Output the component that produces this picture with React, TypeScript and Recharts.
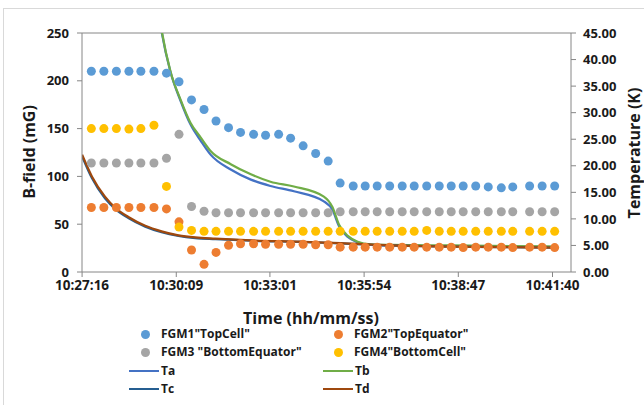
import { ComposedChart, Scatter, Line, XAxis, YAxis, ReferenceLine } from "recharts";

// sample times of the field probes (hh:mm:ss)
const times = [
  "10:27:33", "10:27:56", "10:28:19", "10:28:42", "10:29:04", "10:29:28", "10:29:51", "10:30:14",
  "10:30:37", "10:31:00", "10:31:22", "10:31:45", "10:32:07", "10:32:31", "10:32:53", "10:33:17",
  "10:33:39", "10:34:02", "10:34:25", "10:34:48", "10:35:10", "10:35:34", "10:35:56", "10:36:18",
  "10:36:41", "10:37:04", "10:37:26", "10:37:49", "10:38:12", "10:38:34", "10:38:56", "10:39:19",
  "10:39:42", "10:40:06", "10:40:27", "10:40:58", "10:41:21", "10:41:44",
];

const fgm1 = [
  210, 210, 210, 210, 210, 210, 208, 199, 180, 170, 158, 151, 146, 144, 143, 144, 140, 132, 124, 116,
  93, 90, 90, 90, 90, 90, 90, 90, 90, 90, 90, 90, 89, 88, 89, 90, 90, 90,
];
const fgm2 = [
  67.5, 67.5, 67.5, 67.5, 67.5, 67.5, 66, 52.5, 23, 8, 20.5, 28, 29.5, 29.5, 29, 29, 29, 29, 28.5, 28.5,
  26, 26, 26, 26, 26, 26, 26, 26, 26, 26, 25.5, 26, 26, 26, 25.5, 26, 26, 25.5,
];
const fgm3 = [
  114, 114, 114, 114, 114, 114, 119, 144, 68.5, 63.5, 62, 62, 62, 62, 62, 62, 62, 62, 62, 62,
  63, 63, 63, 63, 63, 63, 63, 63, 63, 63, 63, 63, 63, 63, 63, 63, 63, 63,
];
const fgm4 = [
  150, 150, 150, 149.5, 150, 153.5, 89.5, 47, 43.5, 42.5, 42.5, 42.5, 42.5, 42.5, 42.5, 42.5, 42.5, 42.5, 42.5, 42.5,
  42.5, 42.5, 42.5, 42.5, 42.5, 42.5, 42.5, 43.5, 42.5, 42.5, 42.5, 42.5, 42.5, 42.5, 42.5, 42.5, 42.5, 42.5,
];

// temperature sensors (K)
const timesAB = [
  "10:29:31", "10:29:42", "10:29:58", "10:30:17", "10:30:35", "10:30:54", "10:31:12", "10:31:49",
  "10:32:26", "10:33:02", "10:33:45", "10:34:40", "10:34:56", "10:35:08", "10:35:24", "10:35:42",
  "10:36:06", "10:36:43", "10:38:34", "10:41:43",
];
const ta = [53, 45.3, 37.8, 32.2, 27.8, 24.7, 22.1, 19.3, 17.4, 16.2, 15.2, 13.3, 11.7, 8.6, 6.6, 5.6, 5.1, 5.0, 4.85, 4.7];
const tb = [53.5, 45.6, 37.9, 32.4, 28.1, 25.3, 22.8, 20.3, 18.4, 17.0, 16.1, 14.2, 12.2, 8.9, 6.8, 5.7, 5.2, 5.1, 5.0, 4.8];

const timesCD = [
  "10:27:16", "10:27:34", "10:27:58", "10:28:18", "10:28:41", "10:29:12", "10:29:42", "10:30:13",
  "10:30:44", "10:31:21", "10:32:26", "10:33:58", "10:35:11", "10:36:43", "10:38:34", "10:40:06", "10:41:43",
];
const tc = [21.8, 17.7, 13.9, 11.8, 10.15, 8.55, 7.5, 6.8, 6.4, 6.2, 5.9, 5.65, 5.4, 5.0, 4.8, 4.7, 4.6];
const td = [22.1, 18.0, 14.2, 12.0, 10.35, 8.7, 7.65, 6.9, 6.5, 6.27, 5.95, 5.7, 5.45, 5.0, 4.8, 4.7, 4.6];

const xTickLabels = ["10:27:16", "10:30:09", "10:33:01", "10:35:54", "10:38:47", "10:41:40"];
const xMax = "10:42:14";
const bTicks = [0, 50, 100, 150, 200, 250];
const tempTicks = [0, 5, 10, 15, 20, 25, 30, 35, 40, 45];

const fieldNames = ['FGM1"TopCell"', 'FGM2"TopEquator"', 'FGM3 "BottomEquator"', 'FGM4"BottomCell"'];
const tempNames = ["Ta", "Tb", "Tc", "Td"];

const FIELD_COLORS = ["#5B9BD5", "#ED7D31", "#A5A5A5", "#FFC000"];
const TEMP_COLORS = ["#4472C4", "#70AD47", "#255E91", "#9E480E"];

const toSec = (s: string) => {
  const [h, m, sec] = s.split(":").map(Number);
  return h * 3600 + m * 60 + sec;
};
const fmt = (v: number) => {
  const s = Math.round(v);
  const p = (n: number) => String(n).padStart(2, "0");
  return `${p(Math.floor(s / 3600))}:${p(Math.floor((s % 3600) / 60))}:${p(s % 60)}`;
};

const font = "'Open Sans', sans-serif";
const tickStyle = { fontFamily: font, fontWeight: 700, fontSize: 13, fill: "#1a1a1a" };
const axisLine = { stroke: "#868686", strokeWidth: 1 };

const fieldData = [fgm1, fgm2, fgm3, fgm4].map((vals) => vals.map((v, i) => ({ t: toSec(times[i]), v })));
const tempData = [
  ta.map((v, i) => ({ t: toSec(timesAB[i]), temp: v })),
  tb.map((v, i) => ({ t: toSec(timesAB[i]), temp: v })),
  tc.map((v, i) => ({ t: toSec(timesCD[i]), temp: v })),
  td.map((v, i) => ({ t: toSec(timesCD[i]), temp: v })),
];

const Dot = (color: string) => (p: any) => <circle cx={p.cx} cy={p.cy} r={4.5} fill={color} />;

const legendText = { fontFamily: font, fontWeight: 700, fontSize: 12, color: "#1a1a1a", lineHeight: "16px" } as const;

function LegendRow({ top, left, kind, color, label }: { top: number; left: number; kind: "dot" | "line"; color: string; label: string }) {
  return (
    <div style={{ position: "absolute", top: top - 8, left, display: "flex", alignItems: "center", height: 16 }}>
      {kind === "dot" ? (
        <div style={{ width: 32, display: "flex", justifyContent: "center" }}>
          <div style={{ width: 9, height: 9, borderRadius: "50%", background: color }} />
        </div>
      ) : (
        <div style={{ width: 30, height: 2.5, background: color, marginRight: 2 }} />
      )}
      <span style={{ ...legendText, whiteSpace: "nowrap" }}>{label}</span>
    </div>
  );
}

export default function App() {
  const rows = [334, 352, 371, 389];
  return (
    <div style={{ position: "relative", width: 644, height: 405, overflow: "hidden", background: "#fff" }}>
      <style>{"body{margin:0}"}</style>
      <div style={{ position: "absolute", left: 3, top: 8, width: 700, height: 500, borderLeft: "1px solid #d9d9d9", borderTop: "1px solid #d9d9d9" }} />
      <ComposedChart width={644} height={405} margin={{ top: 33, right: 0, bottom: 103, left: 0 }}>
        <XAxis
          type="number"
          dataKey="t"
          domain={[toSec(xTickLabels[0]) - 0.16, toSec(xMax)]}
          ticks={xTickLabels.map(toSec)}
          tickFormatter={fmt}
          allowDataOverflow
          height={30}
          tick={{ ...tickStyle, fontSize: 13.5 }}
          tickSize={5}
          tickMargin={3}
          axisLine={axisLine}
          tickLine={axisLine}
        />
        <YAxis
          yAxisId="left"
          type="number"
          dataKey="v"
          domain={[0, 250]}
          ticks={bTicks}
          width={82}
          tick={tickStyle}
          tickSize={5}
          tickMargin={8}
          axisLine={axisLine}
          tickLine={axisLine}
        />
        <YAxis
          yAxisId="right"
          orientation="right"
          type="number"
          dataKey="temp"
          domain={[0, 45]}
          allowDataOverflow
          ticks={tempTicks}
          tickFormatter={(v: number) => v.toFixed(2)}
          width={73}
          tick={tickStyle}
          tickSize={5}
          tickMargin={7}
          axisLine={axisLine}
          tickLine={axisLine}
        />
        <ReferenceLine yAxisId="left" y={250} stroke="#868686" strokeWidth={1} />
        {fieldData.map((d, i) => (
          <Scatter
            key={fieldNames[i]}
            name={fieldNames[i]}
            yAxisId="left"
            data={d}
            dataKey="v"
            fill={FIELD_COLORS[i]}
            shape={Dot(FIELD_COLORS[i])}
            isAnimationActive={false}
          />
        ))}
        {tempData.map((d, i) => (
          <Line
            key={tempNames[i]}
            name={tempNames[i]}
            yAxisId="right"
            data={d}
            dataKey="temp"
            type="monotone"
            stroke={TEMP_COLORS[i]}
            strokeWidth={2.25}
            dot={false}
            activeDot={false}
            isAnimationActive={false}
          />
        ))}
      </ComposedChart>

      <div style={{ position: "absolute", left: 29, top: 152, transform: "translate(-50%,-50%) rotate(-90deg)", fontFamily: font, fontWeight: 700, fontSize: 16, color: "#1a1a1a", whiteSpace: "nowrap" }}>
        B-field (mG)
      </div>
      <div style={{ position: "absolute", left: 634, top: 153, transform: "translate(-50%,-50%) rotate(-90deg)", fontFamily: font, fontWeight: 700, fontSize: 16, color: "#1a1a1a", whiteSpace: "nowrap" }}>
        Temperature (K)
      </div>
      <div style={{ position: "absolute", left: 311, top: 318, transform: "translate(-50%,-50%)", fontFamily: font, fontWeight: 700, fontSize: 16, color: "#1a1a1a", whiteSpace: "nowrap" }}>
        Time (hh/mm/ss)
      </div>

      <LegendRow top={rows[0]} left={129} kind="dot" color={FIELD_COLORS[0]} label={fieldNames[0]} />
      <LegendRow top={rows[0]} left={322} kind="dot" color={FIELD_COLORS[1]} label={fieldNames[1]} />
      <LegendRow top={rows[1]} left={129} kind="dot" color={FIELD_COLORS[2]} label={fieldNames[2]} />
      <LegendRow top={rows[1]} left={322} kind="dot" color={FIELD_COLORS[3]} label={fieldNames[3]} />
      <LegendRow top={rows[2]} left={129} kind="line" color={TEMP_COLORS[0]} label={tempNames[0]} />
      <LegendRow top={rows[2]} left={323} kind="line" color={TEMP_COLORS[1]} label={tempNames[1]} />
      <LegendRow top={rows[3]} left={129} kind="line" color={TEMP_COLORS[2]} label={tempNames[2]} />
      <LegendRow top={rows[3]} left={323} kind="line" color={TEMP_COLORS[3]} label={tempNames[3]} />
    </div>
  );
}
